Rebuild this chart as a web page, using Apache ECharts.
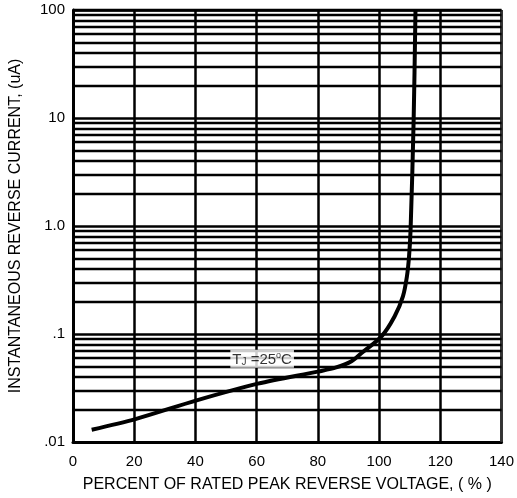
<!DOCTYPE html>
<html>
<head>
<meta charset="utf-8">
<script src="https://cdn.jsdelivr.net/npm/echarts@6/dist/echarts.min.js"></script>
<style>
html,body{margin:0;padding:0;background:#fff;}
#main{width:517px;height:498px;}
</style>
</head>
<body>
<div id="main"></div>
<script>
// Curve (percent of rated peak reverse voltage vs current uA)
const voltagePct = [6.1, 20.4, 40.4, 60.4, 80.4, 86, 91, 94.3, 100.8, 105.1, 107.8, 109.1, 109.8, 110.3, 111.3, 111.9];
const currentUA  = [0.0130, 0.0163, 0.0243, 0.0347, 0.0451, 0.049, 0.056, 0.0667, 0.095, 0.146, 0.223, 0.341, 0.523, 0.925, 9.6, 100];
// Y tick labels (log decades)
const yTickValues = [0.01, 0.1, 1, 10, 100];
const yTickLabels = ['.01', '.1', '1.0', '10', '100'];
// minor horizontal grid lines (2..9 in each decade)
const minorMultipliers = [2, 3, 4, 5, 6, 7, 8, 9];
const decades = [0.01, 0.1, 1, 10];
// annotation
const noteX = [61.8];
const noteY = [0.059];

const minorValues = [];
decades.forEach(d => minorMultipliers.forEach(m => minorValues.push(+(d * m).toPrecision(3))));

const chart = echarts.init(document.getElementById('main'));
const font = 'Liberation Sans, Arial, sans-serif';
chart.setOption({
  animation: false,
  backgroundColor: '#fff',
  grid: { left: 72, right: 13, top: 10, bottom: 56, containLabel: false },
  xAxis: {
    type: 'value', min: 0, max: 140, interval: 20,
    name: 'PERCENT OF RATED PEAK REVERSE VOLTAGE, ( % )',
    nameLocation: 'middle', nameGap: 35,
    nameTextStyle: { fontFamily: font, fontSize: 16, color: '#000' },
    axisLine: { show: true, onZero: false, lineStyle: { color: '#000', width: 3 } },
    axisTick: { show: false },
    axisLabel: { fontFamily: font, fontSize: 15, color: '#000', margin: 12 },
    splitLine: { show: true, lineStyle: { color: '#000', width: 2.5 } }
  },
  yAxis: {
    type: 'log', logBase: 10, min: 0.01, max: 100,
    name: 'INSTANTANEOUS REVERSE CURRENT, (uA)',
    nameLocation: 'middle', nameGap: 49,
    nameTextStyle: { fontFamily: font, fontSize: 16, color: '#000' },
    axisLine: { show: true, lineStyle: { color: '#000', width: 3 } },
    axisTick: { show: false },
    axisLabel: {
      fontFamily: font, fontSize: 15, color: '#000', margin: 8, padding: [5, 0, 0, 0],
      formatter: v => {
        const i = yTickValues.findIndex(t => Math.abs(Math.log10(t) - Math.log10(v)) < 1e-6);
        return i >= 0 ? yTickLabels[i] : '';
      }
    },
    splitLine: { show: true, lineStyle: { color: '#000', width: 2.5 } }
  },
  series: [
    {
      type: 'line',
      data: [],
      silent: true,
      markLine: {
        silent: true, symbol: 'none', animation: false,
        label: { show: false },
        lineStyle: { color: '#000', width: 2.3, type: 'solid' },
        data: minorValues.map(v => ({ yAxis: v }))
      }
    },
    {
      type: 'line',
      data: [[140, 100], [140, 0.01]],
      symbol: 'none', silent: true,
      lineStyle: { color: '#333', width: 2.5 }
    },
    {
      type: 'line',
      data: [[0, 100], [140, 100]],
      symbol: 'none', silent: true,
      lineStyle: { color: '#000', width: 3 }
    },
    {
      type: 'line',
      data: voltagePct.map((x, i) => [x, currentUA[i]]),
      symbol: 'none', smooth: 0.3,
      lineStyle: { color: '#000', width: 4 },
      z: 5
    },
    {
      type: 'scatter',
      data: noteX.map((x, i) => [x, noteY[i]]),
      symbolSize: 0, z: 6, silent: true,
      label: {
        show: true, position: 'inside',
        backgroundColor: '#fff', padding: [1, 2, 0, 2],
        formatter: '{t|T}{s|J}{t| =25}{o|o}{t|C}',
        rich: {
          t: { fontFamily: font, fontSize: 15, color: '#000', verticalAlign: 'bottom', lineHeight: 17 },
          s: { fontFamily: font, fontSize: 10, color: '#000', verticalAlign: 'bottom', lineHeight: 14 },
          o: { fontFamily: font, fontSize: 9, color: '#000', verticalAlign: 'top', lineHeight: 10, padding: [0, 0, 7, 0] }
        }
      }
    }
  ]
});
</script>
</body>
</html>
